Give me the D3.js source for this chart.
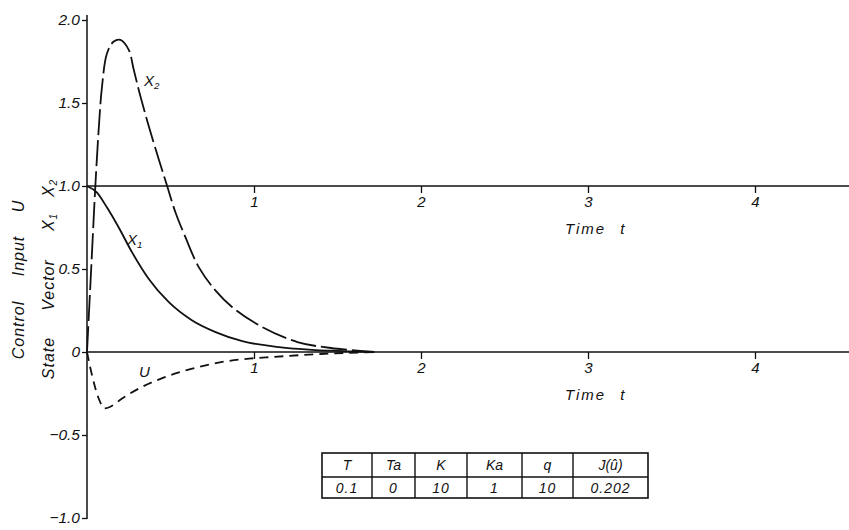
<!DOCTYPE html>
<html>
<head>
<meta charset="utf-8">
<script src="https://cdn.jsdelivr.net/npm/d3@7"></script>
<style>
  body { margin: 0; background: #fff; }
  svg { display: block; }
  text { font-family: "Liberation Sans", "DejaVu Sans", sans-serif; font-style: italic; fill: #111; }
</style>
</head>
<body>
<script>
// values: t (time), value
var x1Data = [
  [0, 1.0], [0.06, 0.96], [0.12, 0.87], [0.19, 0.75], [0.27, 0.60], [0.37, 0.44],
  [0.49, 0.30], [0.63, 0.19], [0.77, 0.12], [0.93, 0.065], [1.15, 0.03], [1.45, 0.008], [1.72, 0]
];
var x2Data = [
  [0, 0], [0.025, 0.5], [0.05, 1.0], [0.07, 1.34], [0.09, 1.60], [0.12, 1.80], [0.16, 1.87],
  [0.20, 1.88], [0.25, 1.82], [0.28, 1.70], [0.32, 1.54], [0.37, 1.36], [0.43, 1.16],
  [0.48, 1.0], [0.53, 0.84], [0.59, 0.69], [0.67, 0.51], [0.77, 0.37], [0.87, 0.27],
  [1.05, 0.15], [1.26, 0.06], [1.46, 0.024], [1.72, 0]
];
var uData = [
  [0, 0], [0.03, -0.14], [0.07, -0.28], [0.105, -0.34], [0.14, -0.33], [0.21, -0.28],
  [0.33, -0.21], [0.47, -0.15], [0.63, -0.10], [0.81, -0.06], [0.97, -0.04],
  [1.11, -0.03], [1.40, -0.012], [1.72, 0]
];
var yTicks = [-1, -0.5, 0, 0.5, 1, 1.5, 2];
var tTicks = [1, 2, 3, 4];
var tableHead = ["T", "Ta", "K", "Ka", "q", "J(\u00fb)"];
var tableVals = ["0.1", "0", "10", "1", "10", "0.202"];

var W = 849, H = 530;
var svg = d3.select("body").append("svg")
    .attr("width", W)
    .attr("height", H);

var x = d3.scaleLinear().domain([0, 1]).range([87, 254]);
var y = d3.scaleLinear().domain([-1, 2]).range([518, 20]);

// y axis
var yAxis = svg.append("g")
    .attr("transform", "translate(" + x(0) + ",0)")
    .call(d3.axisLeft(y).tickValues(yTicks).tickSize(5).tickSizeOuter(0).tickPadding(2)
      .tickFormat(function(d) { return d === 0 ? "0" : d3.format(".1f")(d); }));
yAxis.select(".domain").remove();
yAxis.selectAll("line").attr("stroke", "#111").attr("stroke-width", 1.3);
yAxis.selectAll("text").attr("font-size", 15.5).style("font-family", "Liberation Sans").style("font-style", "italic");
svg.append("line")
    .attr("x1", x(0)).attr("x2", x(0))
    .attr("y1", 15).attr("y2", y(-1) + 1)
    .attr("stroke", "#111").attr("stroke-width", 1.5);

// two time axes: at 1.0 and at 0
[1, 0].forEach(function(level) {
  svg.append("line")
      .attr("x1", x(0)).attr("x2", W)
      .attr("y1", y(level)).attr("y2", y(level))
      .attr("stroke", "#111").attr("stroke-width", 1.5);
  var g = svg.append("g")
      .attr("transform", "translate(0," + y(level) + ")")
      .call(d3.axisBottom(x).tickValues(tTicks).tickSize(7).tickPadding(3).tickFormat(d3.format("d")));
  g.select(".domain").remove();
  g.selectAll("line").attr("stroke", "#111").attr("stroke-width", 1.3);
  g.selectAll("text").attr("font-size", 15).style("font-family", "Liberation Sans").style("font-style", "italic");
  var lab = svg.append("text")
      .attr("x", 565)
      .attr("y", y(level) + 48)
      .attr("font-size", 15)
      .attr("letter-spacing", 2);
  lab.append("tspan").text("Time");
  lab.append("tspan").attr("dx", 14).text("t");
});

// curves
var smooth = d3.line()
    .x(function(d) { return x(d[0]); })
    .y(function(d) { return y(d[1]); })
    .curve(d3.curveMonotoneX);
var peaked = d3.line()
    .x(function(d) { return x(d[0]); })
    .y(function(d) { return y(d[1]); })
    .curve(d3.curveCatmullRom.alpha(0.5));

svg.append("path")
    .datum(x1Data)
    .attr("d", smooth)
    .attr("fill", "none")
    .attr("stroke", "#111")
    .attr("stroke-width", 1.8);

svg.append("path")
    .datum(x2Data)
    .attr("d", peaked)
    .attr("fill", "none")
    .attr("stroke", "#111")
    .attr("stroke-width", 1.8)
    .attr("stroke-dasharray", "26,5");

svg.append("path")
    .datum(uData)
    .attr("d", smooth)
    .attr("fill", "none")
    .attr("stroke", "#111")
    .attr("stroke-width", 1.8)
    .attr("stroke-dasharray", "9,6");

// curve labels
function subLabel(txt, sub, px, py, size) {
  var t = svg.append("text").attr("x", px).attr("y", py).attr("font-size", size);
  t.append("tspan").text(txt);
  if (sub) t.append("tspan").attr("font-size", size * 0.65).attr("dy", 3).text(sub);
  return t;
}
subLabel("X", "2", 144, 86, 15);
subLabel("X", "1", 127, 245, 15);
subLabel("U", null, 139, 377, 15);

// rotated axis titles
function vText(txt, sub, cx, cy) {
  var t = svg.append("text")
      .attr("transform", "translate(" + cx + "," + cy + ") rotate(-90)")
      .attr("text-anchor", "middle")
      .attr("font-size", 16)
      .attr("letter-spacing", 1);
  t.append("tspan").text(txt);
  if (sub) t.append("tspan").attr("font-size", 10).attr("dy", 3).text(sub);
}
vText("Control", null, 24, 330);
vText("Input", null, 24, 256);
vText("U", null, 24, 206);
vText("State", null, 54, 358);
vText("Vector", null, 54, 285);
vText("X", "1", 54, 222);
vText("X", "2", 54, 188);

// parameter table
var colW = [50, 43, 52, 55, 51, 75];
var tx0 = 322, ty0 = 453, rowH = [24, 21];
var colX = [tx0];
colW.forEach(function(w, i) { colX.push(colX[i] + w); });
var tab = svg.append("g");
var tW = colX[colX.length - 1] - tx0;
tab.append("rect")
    .attr("x", tx0).attr("y", ty0)
    .attr("width", tW).attr("height", rowH[0] + rowH[1])
    .attr("fill", "none").attr("stroke", "#111").attr("stroke-width", 1.6);
tab.append("line")
    .attr("x1", tx0).attr("x2", tx0 + tW)
    .attr("y1", ty0 + rowH[0]).attr("y2", ty0 + rowH[0])
    .attr("stroke", "#111").attr("stroke-width", 1.4);
tab.selectAll("line.col")
    .data(colX.slice(1, -1))
    .enter().append("line")
    .attr("class", "col")
    .attr("x1", function(d) { return d; }).attr("x2", function(d) { return d; })
    .attr("y1", ty0).attr("y2", ty0 + rowH[0] + rowH[1])
    .attr("stroke", "#111").attr("stroke-width", 1.4);
tab.selectAll("text.head")
    .data(tableHead)
    .enter().append("text")
    .attr("class", "head")
    .attr("x", function(d, i) { return (colX[i] + colX[i + 1]) / 2; })
    .attr("y", ty0 + 17)
    .attr("text-anchor", "middle")
    .attr("font-size", 14)
    .text(function(d) { return d; });
tab.selectAll("text.val")
    .data(tableVals)
    .enter().append("text")
    .attr("class", "val")
    .attr("x", function(d, i) { return (colX[i] + colX[i + 1]) / 2; })
    .attr("y", ty0 + rowH[0] + 16)
    .attr("text-anchor", "middle")
    .attr("font-size", 14)
    .attr("letter-spacing", 1)
    .text(function(d) { return d; });
</script>
</body>
</html>
